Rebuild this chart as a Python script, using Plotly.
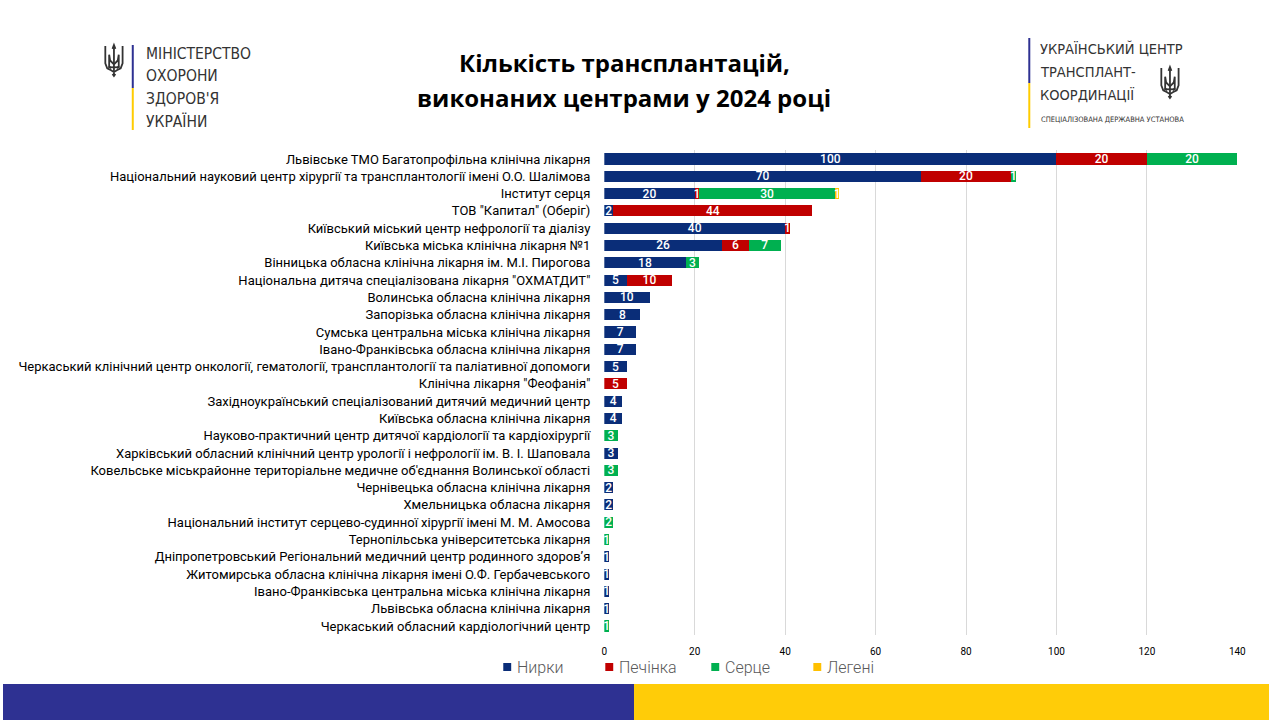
import plotly.graph_objects as go

W, H = 1280, 720

centers = [
    "Львівське ТМО Багатопрофільна клінічна лікарня",
    "Національний науковий центр хірургії та трансплантології імені О.О. Шалімова",
    "Інститут серця",
    "ТОВ \"Капитал\" (Оберіг)",
    "Київський міський центр нефрології та діалізу",
    "Київська міська клінічна лікарня №1",
    "Вінницька обласна клінічна лікарня ім. М.І. Пирогова",
    "Національна дитяча спеціалізована лікарня \"ОХМАТДИТ\"",
    "Волинська обласна клінічна лікарня",
    "Запорізька обласна клінічна лікарня",
    "Сумська центральна міська клінічна лікарня",
    "Івано-Франківська обласна клінічна лікарня",
    "Черкаський клінічний центр онкології, гематології, трансплантології та паліативної допомоги",
    "Клінічна лікарня \"Феофанія\"",
    "Західноукраїнський спеціалізований дитячий медичний центр",
    "Київська обласна клінічна лікарня",
    "Науково-практичний центр дитячої кардіології та кардіохірургії",
    "Харківський обласний клінічний центр урології і нефрології ім. В. І. Шаповала",
    "Ковельське міськрайонне територіальне медичне об'єднання Волинської області",
    "Чернівецька обласна клінічна лікарня",
    "Хмельницька обласна лікарня",
    "Національний інститут серцево-судинної хірургії імені М. М. Амосова",
    "Тернопільська університетська лікарня",
    "Дніпропетровський Регіональний медичний центр родинного здоров’я",
    "Житомирська обласна клінічна лікарня імені О.Ф. Гербачевського",
    "Івано-Франківська центральна міська клінічна лікарня",
    "Львівська обласна клінічна лікарня",
    "Черкаський обласний кардіологічний центр",
]

kidney = [100, 70, 20, 2, 40, 26, 18, 5, 10, 8, 7, 7, 5, None, 4, 4, None, 3, None, 2, 2, None, None, 1, 1, 1, 1, None]
liver  = [20, 20, 1, 44, 1, 6, None, 10, None, None, None, None, None, 5, None, None, None, None, None, None, None, None, None, None, None, None, None, None]
heart  = [20, 1, 30, None, None, 7, 3, None, None, None, None, None, None, None, None, None, 3, None, 3, None, None, 2, 1, None, None, None, None, 1]
lungs  = [None, None, 1, None, None, None, None, None, None, None, None, None, None, None, None, None, None, None, None, None, None, None, None, None, None, None, None, None]

series = [
    ("Нирки", kidney, "#0A2D78"),
    ("Печінка", liver, "#C00000"),
    ("Серце", heart, "#00B050"),
    ("Легені", lungs, "#FFC000"),
]
legend_x = [505, 608, 715, 818]

x_ticks = [0, 20, 40, 60, 80, 100, 120, 140]

title_lines = ["Кількість трансплантацій,", "виконаних центрами у 2024 році"]
moh_lines = ["МІНІСТЕРСТВО", "ОХОРОНИ", "ЗДОРОВ'Я", "УКРАЇНИ"]
utc_lines = ["УКРАЇНСЬКИЙ ЦЕНТР", "ТРАНСПЛАНТ-", "КООРДИНАЦІЇ"]
utc_sub = "СПЕЦІАЛІЗОВАНА ДЕРЖАВНА УСТАНОВА"

LABEL_FONT = "Roboto"
LOGO_FONT = "DejaVu Sans Condensed, Roboto"


def px(x):
    return x / W


def py(y):
    return 1 - y / H


fig = go.Figure()
for name, vals, col in series:
    fig.add_trace(go.Bar(
        y=centers, x=vals, name=name, orientation="h",
        marker=dict(color=col, line=dict(width=0)),
        width=0.64,
        text=vals, texttemplate="%{x}", textposition="inside", textangle=0,
        insidetextanchor="middle", constraintext="none",
        textfont=dict(color="white", size=12, family=LABEL_FONT, weight=500),
        cliponaxis=False, showlegend=False,
    ))

shapes = []
annotations = []

# title
for i, t in enumerate(title_lines):
    annotations.append(dict(text="<b>%s</b>" % t, x=px(627), y=py(62 + i * 36), xref="paper", yref="paper",
                            showarrow=False, xanchor="center", yanchor="middle",
                            font=dict(family="Open Sans", size=24, color="#000000")))

# manual legend
for (name, vals, col), lx in zip(series, legend_x):
    shapes.append(dict(type="rect", xref="paper", yref="paper", x0=px(lx), x1=px(lx + 8),
                       y0=py(671), y1=py(663), fillcolor=col, line=dict(width=0)))
    annotations.append(dict(text=name, x=px(lx + 12), y=py(667), xref="paper", yref="paper",
                            showarrow=False, xanchor="left", yanchor="middle",
                            font=dict(family=LABEL_FONT, size=16, color="#595959", weight=300)))

# left logo
shapes.append(dict(type="line", xref="paper", yref="paper", x0=px(131), x1=px(131), y0=py(45), y1=py(88),
                   line=dict(color="#2E3192", width=2)))
shapes.append(dict(type="line", xref="paper", yref="paper", x0=px(131), x1=px(131), y0=py(88), y1=py(130),
                   line=dict(color="#FFCC00", width=2)))
for i, t in enumerate(moh_lines):
    annotations.append(dict(text=t, x=px(142), y=py(54 + i * 22.5), xref="paper", yref="paper",
                            showarrow=False, xanchor="left", yanchor="middle",
                            font=dict(family=LOGO_FONT, size=15.5, color="#333333")))

# right logo
shapes.append(dict(type="line", xref="paper", yref="paper", x0=px(1036), x1=px(1036), y0=py(38), y1=py(83),
                   line=dict(color="#2E3192", width=2)))
shapes.append(dict(type="line", xref="paper", yref="paper", x0=px(1036), x1=px(1036), y0=py(83), y1=py(128),
                   line=dict(color="#FFCC00", width=2)))
for i, t in enumerate(utc_lines):
    annotations.append(dict(text=t, x=px(1045), y=py(49 + i * 23), xref="paper", yref="paper",
                            showarrow=False, xanchor="left", yanchor="middle",
                            font=dict(family=LOGO_FONT, size=14.5, color="#333333")))
annotations.append(dict(text=utc_sub, x=px(1046), y=py(120), xref="paper", yref="paper",
                        showarrow=False, xanchor="left", yanchor="middle",
                        font=dict(family=LOGO_FONT, size=7.5, color="#333333")))


def trident(cx, top, h):
    s = h / 32.0
    w = lambda x: px(cx + (x - 10) * s)
    v = lambda y: py(top + y * s)
    segs = [
        [(10, 2), (10, 27)],
        [(8.5, 4), (10, 0), (11.5, 4)],
        [(1, 1), (1, 19), (3, 24), (7, 26), (10, 28)],
        [(19, 1), (19, 19), (17, 24), (13, 26), (10, 28)],
        [(10, 20), (6, 16), (5, 10), (5, 22), (7, 24)],
        [(10, 20), (14, 16), (15, 10), (15, 22), (13, 24)],
        [(4, 23), (16, 23)],
        [(10, 28), (10, 32)],
        [(8.5, 30), (10, 32), (11.5, 30)],
    ]
    out = []
    for seg in segs:
        d = "M %f %f " % (w(seg[0][0]), v(seg[0][1])) + " ".join("L %f %f" % (w(a), v(b)) for a, b in seg[1:])
        out.append(dict(type="path", xref="paper", yref="paper", path=d,
                        line=dict(color="#333333", width=1.8)))
    return out


shapes += trident(112, 45, 31)
shapes += trident(1178, 67, 31)

# bottom bands
shapes.append(dict(type="rect", xref="paper", yref="paper", x0=0, x1=px(637), y0=0, y1=py(684),
                   fillcolor="#2E3192", line=dict(width=0), layer="below"))
shapes.append(dict(type="rect", xref="paper", yref="paper", x0=px(637), x1=px(1278), y0=0, y1=py(684),
                   fillcolor="#FFCC08", line=dict(width=0), layer="below"))

fig.update_layout(
    autosize=True,
    margin=dict(l=0, r=0, t=0, b=0),
    paper_bgcolor="white", plot_bgcolor="white",
    barmode="stack", bargap=0.36,
    showlegend=False,
    xaxis=dict(domain=[px(607), px(1246)], range=[0, 140], tickvals=x_ticks,
               showgrid=True, gridcolor="#D9D9D9", gridwidth=1, zeroline=False,
               showline=False, ticks="", ticklabelstandoff=9,
               tickfont=dict(family=LABEL_FONT, size=10, color="#000000"), fixedrange=True),
    yaxis=dict(domain=[py(634.65), py(150.35)], autorange="reversed", type="category",
               showgrid=False, zeroline=False, showline=False, ticks="", ticklabelstandoff=13,
               tickfont=dict(family=LABEL_FONT, size=13, color="#000000"), fixedrange=True),
    uniformtext=dict(minsize=12, mode="show"),
    shapes=shapes,
    annotations=annotations,
)

post = (
    "document.documentElement.style.margin='0';"
    "document.documentElement.style.overflow='hidden';"
    "document.body.style.margin='0';"
    "document.body.style.overflow='hidden';"
    "var g=document.querySelector('.plotly-graph-div');"
    "g.style.position='fixed';g.style.left='0px';g.style.top='0px';"
    "g.style.width='100vw';g.style.height='100vh';"
    "Plotly.Plots.resize(g);"
)
fig.write_html("out.html", config={"displayModeBar": False, "responsive": True},
               default_width="100vw", default_height="100vh", post_script=post)
